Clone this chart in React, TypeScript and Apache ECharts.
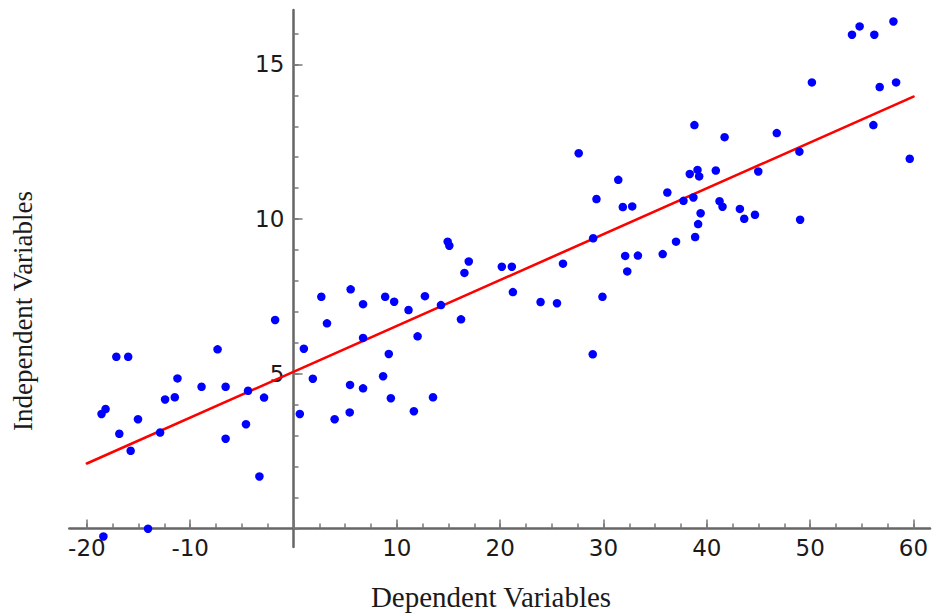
import React, { useEffect, useRef } from "react";
import * as echarts from "echarts";

// Scatter data: dependent (x) and independent (y) values
const depX = [
  -1.78, -17.15, -16.0, -7.35, -11.23, -8.9, -6.57, -4.4, -2.85, -12.43, -11.49,
  -18.19, -18.58, -15.05, -16.86, -12.91, -4.6, -15.76, -6.57, -3.3, -14.08, -18.4,
  14.92, 15.08, 16.96, 16.54, 2.69, 5.53, 6.73, 8.87, 9.74, 11.13, 12.72, 14.27,
  3.24, 16.21, 6.73, 12.01, 1.0, 9.22, 1.87, 8.67, 5.47, 6.73, 9.42, 13.5, 0.61,
  3.98, 5.44, 11.65,
  38.8, 27.6, 31.43, 29.32, 31.87, 32.78, 36.18, 38.35, 39.1, 39.26, 37.74, 38.7,
  39.4, 39.16, 38.87, 37.02, 35.73, 33.33, 32.1, 32.3, 29.0, 26.08, 20.16, 21.13,
  21.23, 23.91, 25.5, 29.9, 28.96,
  58.06, 54.79, 54.05, 56.21, 50.17, 56.73, 58.32, 56.12, 59.64, 41.72, 46.77,
  48.96, 44.98, 40.87, 41.23, 41.52, 43.2, 43.62, 44.66, 49.03,
];
const indepY = [
  6.74, 5.55, 5.55, 5.79, 4.85, 4.58, 4.58, 4.45, 4.23, 4.17, 4.24,
  3.86, 3.7, 3.53, 3.06, 3.1, 3.37, 2.51, 2.9, 1.68, -0.01, -0.26,
  9.27, 9.14, 8.63, 8.26, 7.49, 7.73, 7.25, 7.49, 7.33, 7.06, 7.51, 7.22,
  6.63, 6.76, 6.16, 6.21, 5.81, 5.64, 4.84, 4.92, 4.64, 4.53, 4.21, 4.24, 3.7,
  3.53, 3.75, 3.79,
  13.04, 12.13, 11.27, 10.65, 10.39, 10.41, 10.86, 11.46, 11.59, 11.38, 10.59, 10.7,
  10.19, 9.84, 9.42, 9.27, 8.87, 8.82, 8.81, 8.31, 9.38, 8.56, 8.46, 8.46,
  7.64, 7.32, 7.28, 7.49, 5.63,
  16.39, 16.23, 15.96, 15.96, 14.42, 14.27, 14.42, 13.04, 11.95, 12.65, 12.78,
  12.18, 11.54, 11.57, 10.58, 10.4, 10.33, 10.01, 10.14, 9.98,
];

// Regression line end points
const fitX = [-20, 60];
const fitY = [2.1, 13.96];

// Axis ticks and labels
const xMinorTicks = [-20, -17.5, -15, -12.5, -10, -7.5, -5, -2.5, 0, 2.5, 5, 7.5, 10, 12.5, 15, 17.5, 20, 22.5, 25, 27.5, 30, 32.5, 35, 37.5, 40, 42.5, 45, 47.5, 50, 52.5, 55, 57.5, 60];
const xMajorTicks = [-20, -10, 0, 10, 20, 30, 40, 50, 60];
const xLabels = [-20, -10, 10, 20, 30, 40, 50, 60];
const yMinorTicks = [0, 1, 2, 3, 4, 5, 6, 7, 8, 9, 10, 11, 12, 13, 14, 15, 16];
const yMajorTicks = [5, 10, 15];
const yLabels = [5, 10, 15];

const xTitle = "Dependent Variables";
const yTitle = "Independent Variables";

const X_MIN = -21.7;
const X_MAX = 61.6;
const Y_MIN = -0.6;
const Y_MAX = 16.76;

export default function App() {
  const ref = useRef<HTMLDivElement>(null);

  useEffect(() => {
    if (!ref.current) return;
    const chart = echarts.init(ref.current, undefined, { renderer: "svg" });

    const axisLineStyle = { color: "#666", width: 2.5 };
    const tickStyle = { color: "#777", width: 1.5 };
    const labelFont = {
      fontSize: 23,
      fontFamily: "DejaVu Sans",
      color: "#1a1a1a",
    };
    const serif = '"Liberation Serif", "Times New Roman", serif';

    chart.setOption({
      animation: false,
      backgroundColor: "#fff",
      grid: {
        left: 69.3,
        top: 10,
        width: 860.7,
        height: 537,
        containLabel: false,
        outerBoundsMode: "none",
      },
      xAxis: [
        {
          type: "value",
          min: X_MIN,
          max: X_MAX,
          position: "bottom",
          axisLine: { show: true, onZero: true, onZeroAxisIndex: 0, lineStyle: axisLineStyle },
          axisTick: { show: true, inside: true, length: 5, customValues: xMinorTicks, lineStyle: tickStyle },
          axisLabel: { show: true, customValues: xLabels, margin: -11, ...labelFont },
          splitLine: { show: false },
        },
        {
          type: "value",
          min: X_MIN,
          max: X_MAX,
          position: "bottom",
          axisLine: { show: true, onZero: true, onZeroAxisIndex: 0, lineStyle: { opacity: 0, width: 0 } },
          axisTick: { show: true, inside: true, length: 9, customValues: xMajorTicks, lineStyle: tickStyle },
          axisLabel: { show: false },
          splitLine: { show: false },
        },
      ],
      yAxis: [
        {
          type: "value",
          min: Y_MIN,
          max: Y_MAX,
          position: "left",
          axisLine: { show: true, onZero: true, onZeroAxisIndex: 0, lineStyle: axisLineStyle },
          axisTick: { show: true, inside: true, length: 5, customValues: yMinorTicks, lineStyle: tickStyle },
          axisLabel: { show: true, customValues: yLabels, margin: -215, ...labelFont },
          splitLine: { show: false },
        },
        {
          type: "value",
          min: Y_MIN,
          max: Y_MAX,
          position: "left",
          axisLine: { show: true, onZero: true, onZeroAxisIndex: 0, lineStyle: { opacity: 0, width: 0 } },
          axisTick: { show: true, inside: true, length: 9, customValues: yMajorTicks, lineStyle: tickStyle },
          axisLabel: { show: false },
          splitLine: { show: false },
        },
      ],
      graphic: [
        {
          type: "text",
          x: 491,
          y: 597,
          style: {
            text: xTitle,
            font: `29px ${serif}`,
            fill: "#1a1a1a",
            align: "center",
            verticalAlign: "middle",
          },
        },
        {
          type: "text",
          x: 23,
          y: 311,
          rotation: Math.PI / 2,
          style: {
            text: yTitle,
            font: `27px ${serif}`,
            fill: "#1a1a1a",
            align: "center",
            verticalAlign: "middle",
          },
        },
      ],
      series: [
        {
          type: "line",
          xAxisIndex: 0,
          yAxisIndex: 0,
          data: fitX.map((x, i) => [x, fitY[i]]),
          showSymbol: false,
          symbol: "none",
          lineStyle: { color: "#ff0000", width: 2.6, cap: "round" },
          z: 2,
        },
        {
          type: "scatter",
          xAxisIndex: 0,
          yAxisIndex: 0,
          data: depX.map((x, i) => [x, indepY[i]]),
          symbolSize: 8.5,
          clip: false,
          itemStyle: { color: "#0000ff", opacity: 1 },
          z: 3,
        },
      ],
    });

    return () => chart.dispose();
  }, []);

  return (
    <div
      ref={ref}
      style={{ position: "absolute", left: 0, top: 0, width: 934, height: 614 }}
    />
  );
}
